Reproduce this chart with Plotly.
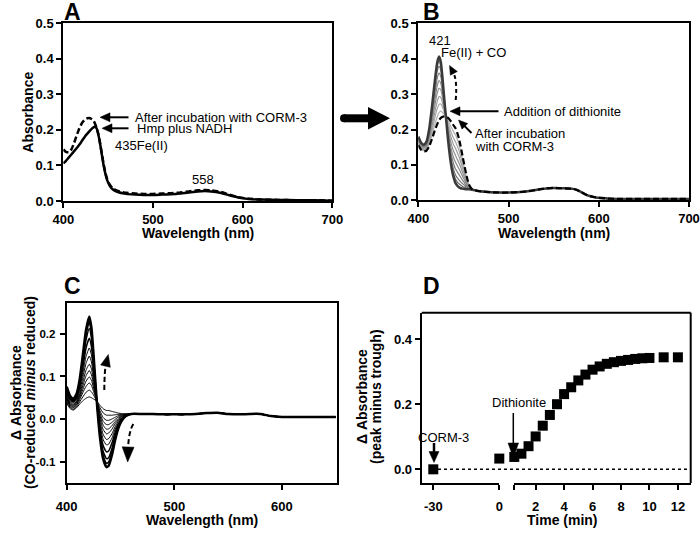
import math
import plotly.graph_objects as go

# ---------------- data ----------------
# Panel A: Hmp spectra
wl_a = [400, 403, 406, 409, 412, 415, 418, 421, 424, 427, 430, 433, 435, 437, 439, 441, 443, 445, 447, 449,
        452, 455, 460, 470, 480, 490, 500, 510, 520, 530, 540, 550, 558, 565, 575, 585, 595, 605, 620, 640,
        660, 680, 700]
abs_a_hmp_nadh = [0.106, 0.113, 0.122, 0.131, 0.140, 0.149, 0.159, 0.170, 0.181, 0.190, 0.199, 0.206, 0.209, 0.205,
                  0.188, 0.162, 0.130, 0.100, 0.076, 0.058, 0.042, 0.033, 0.026, 0.020, 0.018, 0.017, 0.017, 0.018,
                  0.019, 0.021, 0.024, 0.027, 0.028, 0.027, 0.023, 0.016, 0.010, 0.006, 0.004, 0.003, 0.002, 0.002,
                  0.001]
abs_a_corm3 = [0.145, 0.138, 0.137, 0.145, 0.163, 0.185, 0.205, 0.220, 0.229, 0.233, 0.233, 0.228, 0.220, 0.207,
               0.189, 0.163, 0.133, 0.103, 0.079, 0.061, 0.045, 0.036, 0.029, 0.023, 0.021, 0.020, 0.020, 0.021,
               0.022, 0.024, 0.027, 0.030, 0.031, 0.030, 0.026, 0.018, 0.011, 0.007, 0.004, 0.003, 0.002, 0.002,
               0.001]

# Panel B: spectra after dithionite (Soret region per curve + common visible region)
wl_b_head = [400, 403, 406, 409, 412, 415, 418, 421, 423, 425, 427, 429, 431, 433, 435, 437, 439, 441, 443, 445,
             447, 449, 451, 453, 456]
wl_b_tail = [460, 465, 470, 480, 490, 500, 510, 520, 530, 540, 550, 560, 570, 575, 580, 585, 590, 595, 600, 610,
             620, 640, 660, 680, 700]
abs_b_tail = [0.030, 0.027, 0.025, 0.023, 0.022, 0.022, 0.023, 0.025, 0.029, 0.033, 0.035, 0.034, 0.033, 0.030,
              0.024, 0.017, 0.012, 0.009, 0.007, 0.005, 0.004, 0.004, 0.004, 0.004, 0.004]
abs_b_corm3_head = [0.155, 0.143, 0.138, 0.140, 0.152, 0.172, 0.195, 0.215, 0.226, 0.233, 0.236, 0.237, 0.236,
                    0.233, 0.227, 0.220, 0.212, 0.205, 0.192, 0.175, 0.152, 0.125, 0.100, 0.075, 0.045]
abs_b_mid_1 = [0.158, 0.145, 0.140, 0.143, 0.158, 0.183, 0.211, 0.236, 0.248, 0.252, 0.248, 0.242, 0.235, 0.225, 0.215, 0.204, 0.194, 0.186, 0.174, 0.158, 0.138, 0.114, 0.092, 0.070, 0.043]
abs_b_mid_2 = [0.161, 0.148, 0.143, 0.146, 0.164, 0.194, 0.229, 0.259, 0.271, 0.272, 0.262, 0.248, 0.233, 0.217, 0.202, 0.188, 0.176, 0.166, 0.155, 0.141, 0.123, 0.102, 0.083, 0.064, 0.042]
abs_b_mid_3 = [0.164, 0.150, 0.145, 0.149, 0.170, 0.205, 0.245, 0.280, 0.293, 0.291, 0.274, 0.253, 0.232, 0.210, 0.189, 0.172, 0.158, 0.148, 0.136, 0.124, 0.108, 0.091, 0.075, 0.059, 0.040]
abs_b_mid_4 = [0.168, 0.153, 0.148, 0.153, 0.176, 0.216, 0.263, 0.303, 0.316, 0.312, 0.288, 0.259, 0.231, 0.202, 0.176, 0.155, 0.139, 0.128, 0.117, 0.106, 0.093, 0.079, 0.066, 0.053, 0.038]
abs_b_mid_5 = [0.171, 0.155, 0.150, 0.155, 0.182, 0.227, 0.279, 0.324, 0.338, 0.330, 0.300, 0.264, 0.229, 0.194, 0.164, 0.139, 0.121, 0.109, 0.099, 0.089, 0.079, 0.068, 0.058, 0.048, 0.036]
abs_b_mid_6 = [0.174, 0.158, 0.152, 0.158, 0.188, 0.237, 0.295, 0.345, 0.359, 0.349, 0.313, 0.269, 0.228, 0.186, 0.152, 0.124, 0.104, 0.090, 0.081, 0.073, 0.065, 0.057, 0.050, 0.042, 0.035]
abs_b_mid_7 = [0.176, 0.160, 0.154, 0.161, 0.193, 0.247, 0.310, 0.364, 0.379, 0.366, 0.324, 0.274, 0.227, 0.179, 0.140, 0.110, 0.088, 0.073, 0.064, 0.058, 0.052, 0.047, 0.043, 0.038, 0.033]
abs_b_mid_8 = [0.178, 0.162, 0.156, 0.163, 0.197, 0.254, 0.321, 0.378, 0.393, 0.378, 0.333, 0.277, 0.225, 0.174, 0.132, 0.099, 0.076, 0.061, 0.053, 0.047, 0.043, 0.039, 0.037, 0.035, 0.032]
abs_b_final_head = [0.180, 0.163, 0.157, 0.165, 0.200, 0.260, 0.330, 0.390, 0.406, 0.390, 0.340, 0.280, 0.225,
                    0.170, 0.125, 0.090, 0.066, 0.050, 0.042, 0.037, 0.034, 0.033, 0.032, 0.031, 0.031]

# Panel C: CO-reduced minus reduced difference spectra
wl_c_head = [400, 403, 406, 409, 412, 415, 418, 421, 423, 425, 428, 431, 434, 437, 439, 442, 445, 448, 451, 455]
wl_c_tail = [460, 470, 480, 490, 500, 510, 520, 530, 540, 550, 560, 570, 580, 590, 600, 615, 630, 650]
dabs_c_tail = [0.012, 0.012, 0.012, 0.011, 0.011, 0.011, 0.012, 0.014, 0.015, 0.012, 0.011, 0.012, 0.012, 0.007,
               0.005, 0.005, 0.005, 0.005]
dabs_c_01 = [0.037, 0.025, 0.021, 0.026, 0.035, 0.043, 0.049, 0.052, 0.050, 0.047, 0.042, 0.032, 0.024, 0.020, 0.020, 0.018, 0.016, 0.014, 0.013, 0.012]
dabs_c_02 = [0.040, 0.028, 0.023, 0.029, 0.040, 0.052, 0.063, 0.068, 0.064, 0.056, 0.042, 0.026, 0.014, 0.009, 0.009, 0.009, 0.010, 0.011, 0.011, 0.012]
dabs_c_03 = [0.044, 0.030, 0.026, 0.032, 0.045, 0.062, 0.077, 0.085, 0.079, 0.065, 0.042, 0.019, 0.003, -0.003, -0.003, 0.000, 0.004, 0.008, 0.010, 0.011]
dabs_c_04 = [0.047, 0.033, 0.028, 0.034, 0.049, 0.070, 0.089, 0.099, 0.091, 0.073, 0.042, 0.013, -0.006, -0.013, -0.013, -0.008, -0.001, 0.005, 0.009, 0.011]
dabs_c_05 = [0.050, 0.035, 0.030, 0.037, 0.054, 0.078, 0.102, 0.114, 0.104, 0.081, 0.041, 0.007, -0.015, -0.024, -0.023, -0.016, -0.006, 0.002, 0.007, 0.010]
dabs_c_06 = [0.053, 0.037, 0.032, 0.039, 0.058, 0.087, 0.115, 0.129, 0.118, 0.089, 0.041, 0.000, -0.025, -0.035, -0.033, -0.024, -0.011, -0.001, 0.006, 0.010]
dabs_c_07 = [0.057, 0.040, 0.034, 0.042, 0.064, 0.098, 0.131, 0.148, 0.134, 0.100, 0.041, -0.007, -0.037, -0.048, -0.046, -0.035, -0.018, -0.004, 0.004, 0.009]
dabs_c_08 = [0.061, 0.043, 0.037, 0.046, 0.070, 0.108, 0.147, 0.167, 0.151, 0.110, 0.041, -0.015, -0.049, -0.061, -0.059, -0.045, -0.024, -0.008, 0.002, 0.009]
dabs_c_09 = [0.065, 0.047, 0.040, 0.049, 0.077, 0.121, 0.167, 0.190, 0.170, 0.122, 0.041, -0.024, -0.063, -0.077, -0.075, -0.057, -0.032, -0.012, 0.000, 0.008]
dabs_c_10 = [0.070, 0.051, 0.043, 0.053, 0.083, 0.134, 0.186, 0.213, 0.190, 0.135, 0.040, -0.033, -0.077, -0.093, -0.091, -0.070, -0.040, -0.017, -0.002, 0.008]
dabs_c_11 = [0.073, 0.053, 0.045, 0.056, 0.088, 0.143, 0.199, 0.228, 0.203, 0.143, 0.040, -0.040, -0.087, -0.104, -0.101, -0.078, -0.046, -0.020, -0.004, 0.007]
dabs_c_12 = [0.076, 0.055, 0.047, 0.058, 0.092, 0.150, 0.210, 0.241, 0.215, 0.150, 0.040, -0.045, -0.095, -0.113, -0.110, -0.085, -0.050, -0.022, -0.005, 0.007]

# Panel D: time course
time_min = [-30, 0, 0.5, 1, 1.5, 2, 2.5, 3, 3.5, 4, 4.5, 5, 5.5, 6, 6.5, 7, 7.5, 8, 8.5, 9, 9.5, 10, 11, 12]
delta_abs = [0.000, 0.033, 0.038, 0.048, 0.071, 0.101, 0.134, 0.167, 0.200, 0.231, 0.252, 0.273, 0.291, 0.306,
             0.316, 0.324, 0.329, 0.333, 0.336, 0.339, 0.341, 0.342, 0.344, 0.344]

# ticks
ticks_wl_ab = [400, 500, 600, 700]
ticks_abs_ab = [0.0, 0.1, 0.2, 0.3, 0.4, 0.5]
ticks_wl_c = [400, 500, 600]
ticks_dabs_c = [-0.1, 0.0, 0.1, 0.2]
ticktext_dabs_c = ["-0.1", "0.0", "0.1", "0.2"]
ticks_dabs_d = [0.0, 0.2, 0.4]
ticks_time_seg1 = [-30, 0]
ticktext_time_seg1 = ["-30", "0"]
ticks_time_seg2 = [0.5, 2, 4, 6, 8, 10, 12]
ticktext_time_seg2 = ["", "2", "4", "6", "8", "10", "12"]

# ---------------- figure ----------------
W, H = 700, 535
FONT = "Liberation Sans, Arial, sans-serif"


def X(p):
    return p / W


def Y(p):
    return 1 - p / H


fig = go.Figure()

# A
fig.add_trace(go.Scatter(x=wl_a, y=abs_a_hmp_nadh, mode="lines", xaxis="x", yaxis="y",
                         line=dict(color="black", width=2.5, shape="spline", smoothing=0.5)))
fig.add_trace(go.Scatter(x=wl_a, y=abs_a_corm3, mode="lines", xaxis="x", yaxis="y",
                         line=dict(color="black", width=2.5, dash="6px,3px", shape="spline", smoothing=0.5)))

# B
b_mids = [abs_b_mid_1, abs_b_mid_2, abs_b_mid_3, abs_b_mid_4, abs_b_mid_5, abs_b_mid_6, abs_b_mid_7, abs_b_mid_8]
wl_b = wl_b_head + wl_b_tail
for i, head in enumerate(b_mids):
    g = int(175 - i * 10)
    fig.add_trace(go.Scatter(x=wl_b, y=head + abs_b_tail, mode="lines", xaxis="x2", yaxis="y2",
                             line=dict(color=f"rgb({g},{g},{g})", width=1.2, shape="spline", smoothing=0.5)))
fig.add_trace(go.Scatter(x=wl_b, y=abs_b_final_head + abs_b_tail, mode="lines", xaxis="x2", yaxis="y2",
                         line=dict(color="#3a3a3a", width=2.5, shape="spline", smoothing=0.5)))
fig.add_trace(go.Scatter(x=wl_b, y=abs_b_corm3_head + abs_b_tail, mode="lines", xaxis="x2", yaxis="y2",
                         line=dict(color="black", width=2.2, dash="6px,3px", shape="spline", smoothing=0.5)))

# C
c_curves = [dabs_c_01, dabs_c_02, dabs_c_03, dabs_c_04, dabs_c_05, dabs_c_06, dabs_c_07, dabs_c_08,
            dabs_c_09, dabs_c_10, dabs_c_11, dabs_c_12]
wl_c = wl_c_head + wl_c_tail
for i, head in enumerate(c_curves):
    w = 1.0 if i < 8 else (1.5 if i < 11 else 2.5)
    fig.add_trace(go.Scatter(x=wl_c, y=head + dabs_c_tail, mode="lines", xaxis="x3", yaxis="y3",
                             line=dict(color="black", width=w, shape="spline", smoothing=0.5)))

# D (broken time axis: segment 1 <= 0, segment 2 > 0)
t1 = [t for t in time_min if t <= 0]
v1 = [v for t, v in zip(time_min, delta_abs) if t <= 0]
t2 = [t for t in time_min if t > 0]
v2 = [v for t, v in zip(time_min, delta_abs) if t > 0]
mk = dict(symbol="square", size=10, color="black")
fig.add_trace(go.Scatter(x=t1, y=v1, mode="markers", xaxis="x4", yaxis="y4", marker=mk, cliponaxis=False))
fig.add_trace(go.Scatter(x=t2, y=v2, mode="markers", xaxis="x5", yaxis="y4", marker=mk, cliponaxis=False))

tickfont = dict(family=FONT, size=13, color="black", weight="bold")
ax_common = dict(showline=True, linecolor="black", linewidth=2, ticks="outside", ticklen=5, tickwidth=2,
                 tickcolor="black", showgrid=False, zeroline=False, tickfont=tickfont, fixedrange=True,
                 automargin=False)
ax_c_y = dict(ax_common)
ax_c_y["tickfont"] = dict(family=FONT, size=11.5, color="black", weight="bold")

fig.update_layout(
    template="none",
    width=W, height=H, margin=dict(l=0, r=0, t=0, b=0, pad=0, autoexpand=False),
    paper_bgcolor="white", plot_bgcolor="white", showlegend=False, hovermode=False,
    xaxis=dict(domain=[X(63.3), X(332.3)], range=[400, 700], tickvals=ticks_wl_ab, anchor="y", mirror=True,
               **ax_common),
    yaxis=dict(domain=[Y(201), Y(23.3)], range=[0, 0.5], tickvals=ticks_abs_ab, tickformat=".1f", anchor="x",
               mirror=True, **ax_common),
    xaxis2=dict(domain=[X(418.3), X(689)], range=[400, 700], tickvals=ticks_wl_ab, anchor="y2", mirror=True,
                **ax_common),
    yaxis2=dict(domain=[Y(200.3), Y(23.3)], range=[0, 0.5], tickvals=ticks_abs_ab, tickformat=".1f",
                anchor="x2", mirror=True, **ax_common),
    xaxis3=dict(domain=[X(66.7), X(336.7)], range=[400, 651], tickvals=ticks_wl_c, anchor="y3", mirror=True,
                ticklabelstandoff=5, **ax_common),
    yaxis3=dict(domain=[Y(483.3), Y(303.3)], range=[-0.151, 0.272], tickvals=ticks_dabs_c,
                ticktext=ticktext_dabs_c, anchor="x3", mirror=True, ticklabelstandoff=2, **ax_c_y),
    xaxis4=dict(domain=[X(421.7), X(499.3)], range=[-35.27, 0.001], tickvals=ticks_time_seg1,
                ticktext=ticktext_time_seg1, anchor="y4", ticklabelstandoff=5, **ax_common),
    xaxis5=dict(domain=[X(514.3), X(690.7)], range=[0.5, 12.9], tickvals=ticks_time_seg2,
                ticktext=ticktext_time_seg2, anchor="y4", ticklabelstandoff=5, **ax_common),
    yaxis4=dict(domain=[Y(483), Y(312.7)], range=[-0.042, 0.481], tickvals=ticks_dabs_d, tickformat=".1f",
                anchor="x4", **ax_common),
)

shapes = []
BLK = "black"


def pth(points):
    return "M " + " L ".join(f"{X(a):.5f},{Y(b):.5f}" for a, b in points) + " Z"


def arrow(x0, y0, x1, y1, hl, hw, lw, dash="solid", ctrl=None):
    sx, sy = ctrl if ctrl else (x0, y0)
    dx, dy = x1 - sx, y1 - sy
    L = math.hypot(dx, dy)
    ux, uy = dx / L, dy / L
    bx, by = x1 - ux * hl * 0.8, y1 - uy * hl * 0.8
    if ctrl:
        path = f"M {X(x0):.5f},{Y(y0):.5f} Q {X(ctrl[0]):.5f},{Y(ctrl[1]):.5f} {X(bx):.5f},{Y(by):.5f}"
        shapes.append(dict(type="path", xref="paper", yref="paper", path=path,
                           line=dict(color=BLK, width=lw, dash=dash)))
    else:
        shapes.append(dict(type="line", xref="paper", yref="paper", x0=X(x0), y0=Y(y0), x1=X(bx), y1=Y(by),
                           line=dict(color=BLK, width=lw, dash=dash)))
    hx, hy = x1 - ux * hl, y1 - uy * hl
    px_, py_ = -uy, ux
    tri = [(x1, y1), (hx + px_ * hw / 2, hy + py_ * hw / 2), (hx - px_ * hw / 2, hy - py_ * hw / 2)]
    shapes.append(dict(type="path", xref="paper", yref="paper", path=pth(tri), fillcolor=BLK,
                       line=dict(color=BLK, width=0.5)))


# A arrows
arrow(128.5, 117.3, 100, 117.3, 10, 9, 2)
arrow(128.5, 128.3, 102, 128.3, 10, 9, 2)
# B arrows
arrow(498.5, 111.3, 450, 111.3, 10, 9, 2)
arrow(471.5, 133, 458.5, 120, 9, 8, 2)
arrow(455.7, 100, 449.5, 65.5, 9, 8, 2, dash="4px,3px", ctrl=(457.5, 80))
# C arrows
arrow(104.3, 390, 108.3, 354.5, 12, 10, 2, dash="5px,3px", ctrl=(104.5, 370))
arrow(133.3, 424, 127.7, 462, 15, 12, 2, dash="5px,3px", ctrl=(128.5, 432))
# D arrows
arrow(513.3, 413, 513.3, 458, 15, 10.5, 1.5)
arrow(434, 443, 434, 462.5, 11, 10, 2.5)

# big arrow between A and B
shapes.append(dict(type="line", xref="paper", yref="paper", x0=X(344), y0=Y(118.3), x1=X(372), y1=Y(118.3),
                   line=dict(color=BLK, width=8)))
shapes.append(dict(type="circle", xref="paper", yref="paper", x0=X(340), y0=Y(114.3), x1=X(348), y1=Y(122.3),
                   fillcolor=BLK, line=dict(color=BLK, width=0)))
shapes.append(dict(type="path", xref="paper", yref="paper",
                   path=pth([(390, 118.3), (368, 107), (368, 129.6)]), fillcolor=BLK, line=dict(color=BLK, width=0)))

# D frame (top/right) and dotted zero line
shapes.append(dict(type="line", xref="paper", yref="paper", x0=X(421.7), x1=X(690.7), y0=Y(312.7), y1=Y(312.7),
                   line=dict(color=BLK, width=2)))
shapes.append(dict(type="line", xref="paper", yref="paper", x0=X(690.7), x1=X(690.7), y0=Y(312.7), y1=Y(483),
                   line=dict(color=BLK, width=2)))
shapes.append(dict(type="line", xref="paper", yref="y4", x0=X(438), x1=X(690), y0=0, y1=0, layer="below",
                   line=dict(color=BLK, width=1.5, dash="dot")))

fig.update_layout(shapes=shapes)

ann = []


def txt(x, y, s, size=13, xa="left", ya="middle", angle=0):
    ann.append(dict(x=X(x), y=Y(y), xref="paper", yref="paper", text=s, showarrow=False, xanchor=xa,
                    yanchor=ya, textangle=angle, font=dict(family=FONT, size=size, color="black")))


# panel letters
txt(62, 12, "<b>A</b>", 23)
txt(421, 12, "<b>B</b>", 23)
txt(62, 286, "<b>C</b>", 23)
txt(421, 286, "<b>D</b>", 23)
# axis titles
txt(197.5, 233, "<b>Wavelength (nm)</b>", 14, xa="center")
txt(554, 233, "<b>Wavelength (nm)</b>", 14, xa="center")
txt(202, 520, "<b>Wavelength (nm)</b>", 14, xa="center")
txt(562, 519.5, "<b>Time (min)</b>", 14, xa="center")
txt(27.7, 112, "<b>Absorbance</b>", 14, xa="center", angle=-90)
txt(16, 393, "<b>Δ Absorbance</b>", 14, xa="center", angle=-90)
txt(30, 393, "<b>(CO-reduced <i>minus</i> reduced)</b>", 14, xa="center", angle=-90)
txt(362, 397, "<b>Δ Absorbance</b>", 14, xa="center", angle=-90)
txt(376, 397, "<b>(peak minus trough)</b>", 14, xa="center", angle=-90)
# A labels
txt(133, 117.3, "After incubation with CORM-3")
txt(135, 128.5, "Hmp plus NADH")
txt(113, 146, "435Fe(II)")
txt(203.3, 179, "558", xa="center")
# B labels
txt(439.7, 40, "421", xa="center")
txt(473.8, 52.5, "Fe(II) + CO", xa="center")
txt(501.7, 111.5, "Addition of dithionite")
txt(472.7, 133.3, "After incubation")
txt(472.7, 146.7, "with CORM-3")
# D labels
txt(443, 437.5, "CORM-3", xa="center")
txt(519, 402.5, "Dithionite", xa="center")

fig.update_layout(annotations=ann)

fig.write_html("out.html", config={"displayModeBar": False, "staticPlot": True},
               post_script="document.body.style.margin='0px';document.body.style.overflow='hidden';")
